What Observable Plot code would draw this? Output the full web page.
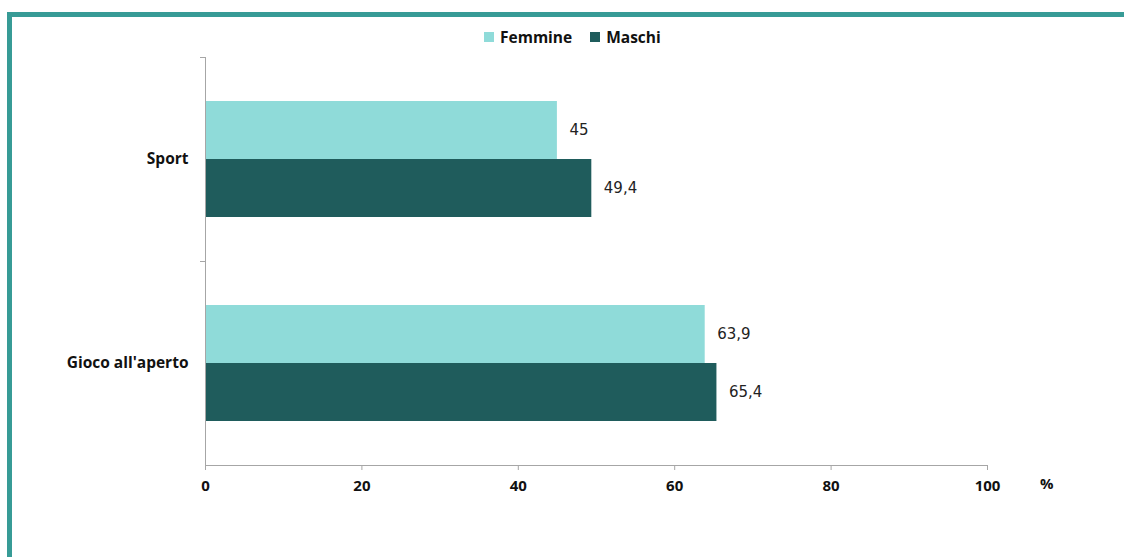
<!DOCTYPE html>
<html><head><meta charset="utf-8">
<script src="https://cdn.jsdelivr.net/npm/d3@7"></script>
<script src="https://cdn.jsdelivr.net/npm/@observablehq/plot@0.6"></script>
<style>
body{margin:0;background:#fff;}
#wrap{position:relative;width:1124px;height:557px;overflow:hidden;background:#fff;}
#btop{position:absolute;left:7px;top:12px;width:1117px;height:5px;background:#379b96;}
#bleft{position:absolute;left:7px;top:12px;width:5px;height:545px;background:#379b96;}
#legend{position:absolute;left:484px;top:26px;display:flex;align-items:center;font-family:"Open Sans",sans-serif;font-weight:bold;font-size:15.5px;color:#111;}
#legend .sw{width:10px;height:10px;display:inline-block;margin-right:6px;}
#legend .it{display:flex;align-items:center;margin-right:18px;}
#chart{position:absolute;left:0;top:0;}
#pct{position:absolute;left:1040px;top:473px;font-family:"Open Sans",sans-serif;font-weight:bold;font-size:15px;color:#111;}
</style>
</head><body>
<div id="wrap">
  <div id="btop"></div><div id="bleft"></div>
  <div id="legend"></div>
  <div id="chart"></div>
  <div id="pct">%</div>
</div>
<script>
const categories = ["Sport", "Gioco all'aperto"];
const series = ["Femmine", "Maschi"];
const femmineValues = [45, 63.9];
const maschiValues = [49.4, 65.4];
const xTicks = [0, 20, 40, 60, 80, 100];
const colors = ["#8fdbd9", "#1f5c5c"];

const data = [];
categories.forEach((c, i) => {
  data.push({cat: c, sex: series[0], value: femmineValues[i]});
  data.push({cat: c, sex: series[1], value: maschiValues[i]});
});
const fmt = v => String(v).replace(".", ",");

// legend
const leg = document.getElementById("legend");
series.forEach((s, i) => {
  const it = document.createElement("span"); it.className = "it";
  const sw = document.createElement("span"); sw.className = "sw"; sw.style.background = colors[i];
  it.appendChild(sw); it.appendChild(document.createTextNode(s));
  leg.appendChild(it);
});

const plot = Plot.plot({
  width: 1124, height: 557,
  marginLeft: 205, marginRight: 137, marginTop: 57, marginBottom: 92,
  style: {background: "transparent", overflow: "visible"},
  x: {domain: [0, 100], ticks: xTicks, label: null},
  y: {domain: series, axis: null, paddingInner: 0, paddingOuter: 0.744},
  fy: {domain: categories, padding: 0, label: null},
  color: {domain: series, range: colors},
  marks: [
    Plot.barX(data, {fy: "cat", y: "sex", x: "value", fill: "sex", inset: 0}),
    Plot.ruleX([0], {stroke: "#a6a6a6", strokeWidth: 1}),
    Plot.text(data, {fy: "cat", y: "sex", x: "value", text: d => fmt(d.value), textAnchor: "start", dx: 12,
      fontFamily: "DejaVu Sans, Verdana, sans-serif", fontSize: 15, fill: "#222"}),
    Plot.axisFy({anchor: "left", tickSize: 0, tickPadding: 17, fontWeight: "bold", fontSize: 15.5,
      fontFamily: "Open Sans, sans-serif", fill: "#111", label: null}),
    Plot.axisX({ticks: xTicks, tickSize: 5, tickPadding: 10, stroke: "#a6a6a6", fontWeight: "bold", fontSize: 15,
      fontFamily: "Open Sans, sans-serif", fill: "#111", label: null})
  ]
});
document.getElementById("chart").appendChild(plot);

// baseline and category boundary ticks from the library's scales
const sx = plot.scale("x"), sfy = plot.scale("fy");
const svg = d3.select(plot);
const x0 = sx.apply(0), x1 = sx.apply(100);
const bottom = sfy.apply(categories[categories.length - 1]) + sfy.bandwidth;
svg.append("line").attr("x1", x0).attr("x2", x1).attr("y1", bottom + 0.5).attr("y2", bottom + 0.5)
  .attr("stroke", "#a6a6a6");
categories.forEach(c => {
  const y = sfy.apply(c) + 0.5;
  svg.append("line").attr("x1", x0 - 5).attr("x2", x0).attr("y1", y).attr("y2", y).attr("stroke", "#a6a6a6");
});
</script>
</body></html>
